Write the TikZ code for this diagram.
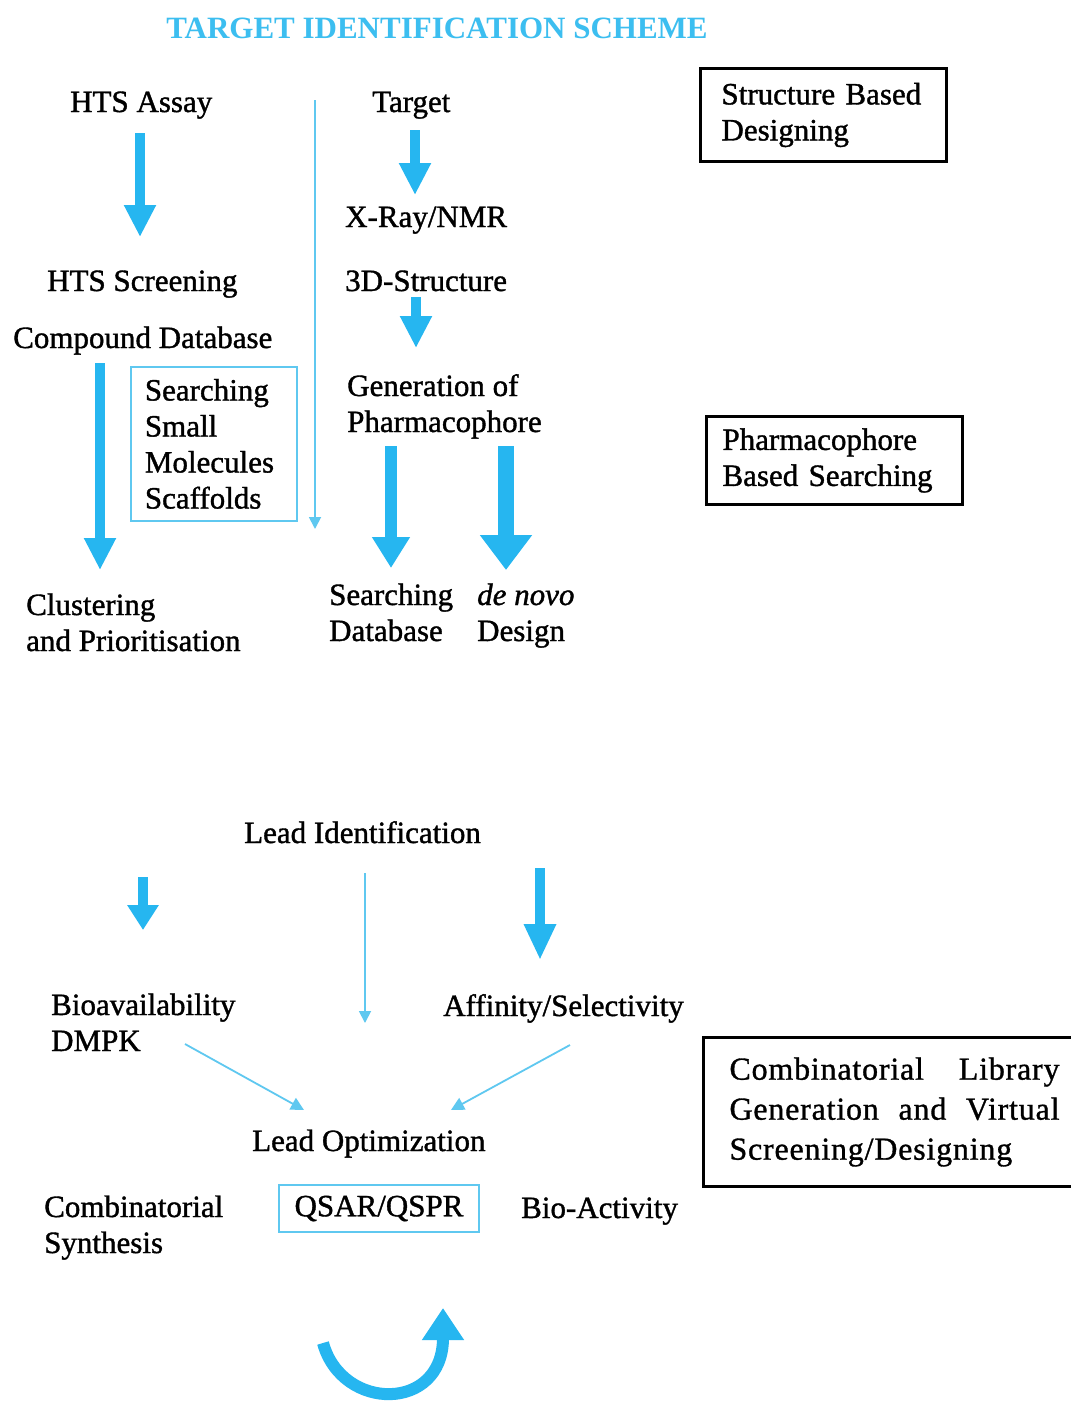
\documentclass[tikz,border=0pt]{standalone}
\usepackage{fontspec}
\setmainfont{Liberation Serif}
\newfontfamily\rfont{Liberation Serif}[FakeBold=1.2]
\newfontfamily\lfont{Liberation Serif}[FakeBold=1.0,LetterSpace=2.5]
\usetikzlibrary{arrows.meta}
\definecolor{cy}{RGB}{38,182,240}
\definecolor{cyl}{RGB}{95,200,240}
\definecolor{cyt}{RGB}{60,190,240}
\begin{document}
\begin{tikzpicture}[x=1pt,y=1pt,
  txt/.style={font=\rfont\fontsize{31}{36}\selectfont, inner sep=0pt, anchor=base west, align=left},
  fat/.style={draw=cy, line width=10pt, -{Triangle[width=30pt,length=32pt]}},
  thinarr/.style={draw=cyl, line width=1.8pt, -{Triangle[width=12pt,length=12pt]}},
  blackbox/.style={draw=black, line width=3pt, anchor=north west, align=left,
     font=\rfont\fontsize{31}{36}\selectfont, inner ysep=0pt},
  cybox/.style={draw=cyl, line width=1.8pt, anchor=north west, align=left,
     font=\rfont\fontsize{31}{36}\selectfont, inner ysep=0pt}]
\useasboundingbox (0,0) rectangle (1071,-1401);
\fill[white] (0,0) rectangle (1071,-1401);

% title
\node[font=\bfseries\fontsize{31}{36}\selectfont, text=cyt, inner sep=0pt, anchor=base] (title) at (437,-38) {TARGET IDENTIFICATION SCHEME};

% top part texts
\node[txt] (hts) at (70,-112) {HTS Assay};
\node[txt] (target) at (372,-112) {Target};
\node[txt] (xray) at (345,-227) {X-Ray/NMR};
\node[txt] (htsscr) at (47,-291) {HTS Screening};
\node[txt] (struct) at (345,-291) {3D-Structure};
\node[txt] (compound) at (13,-348) {Compound Database};
\node[txt] (gen) at (347,-432) {Generation of\\Pharmacophore};
\node[txt] (searchdb) at (329,-641) {Searching\\Database};
\node[txt] (denovo) at (477,-641) {\textit{de novo}\\Design};
\node[txt] (cluster) at (26,-651) {Clustering\\and Prioritisation};

\node[cybox, minimum width=166pt, minimum height=154pt, text width=138pt, inner xsep=14pt] (searchbox) at (130,-366) {Searching\\Small\\Molecules\\Scaffolds};

\node[blackbox, minimum width=246pt, minimum height=93pt, text width=204pt, inner xsep=21pt] (sbd) at (699,-67) {Structure Based\\Designing};
\node[blackbox, minimum width=256pt, minimum height=88pt, text width=224pt, inner xsep=16pt] (pbs) at (705,-415) {Pharmacophore\\Based Searching};

% top arrows
\coordinate (a1s) at (140,-133); \coordinate (a1e) at (140,-237);
\coordinate (a2s) at (415,-130); \coordinate (a2e) at (415,-195);
\coordinate (a3s) at (416,-297); \coordinate (a3e) at (416,-348);
\coordinate (a4s) at (100,-363); \coordinate (a4e) at (100,-570);
\coordinate (a5s) at (391,-446); \coordinate (a5e) at (391,-568);
\coordinate (a6s) at (506,-446); \coordinate (a6e) at (506,-570);
\coordinate (v1s) at (315,-100); \coordinate (v1e) at (315,-529);
\draw[fat] (a1s) -- (a1e);
\draw[fat] (a2s) -- (a2e);
\draw[fat] (a3s) -- (a3e);
\draw[fat] (a4s) -- (a4e);
\draw[fat, line width=12pt, -{Triangle[width=36pt,length=31pt]}] (a5s) -- (a5e);
\draw[fat, line width=16pt, -{Triangle[width=50pt,length=35pt]}] (a6s) -- (a6e);
\draw[thinarr] (v1s) -- (v1e);

% bottom part texts
\node[txt] (leadid) at (244,-843) {Lead Identification};
\node[txt] (bio) at (51,-1051) {Bioavailability\\DMPK};
\node[txt] (aff) at (443,-1016) {Affinity/Selectivity};
\node[txt] (leadopt) at (252,-1151) {Lead Optimization};
\node[txt] (combsyn) at (44,-1253) {Combinatorial\\Synthesis};
\node[txt] (bioact) at (521,-1218) {Bio-Activity};
\node[cybox, minimum width=200pt, minimum height=47pt, align=center, anchor=center] (qsar) at (379,-1208.5) {QSAR/QSPR};
\node[blackbox, font=\lfont\fontsize{32}{40}\selectfont, minimum width=382pt, minimum height=149pt, text width=330pt, inner xsep=26pt] (comb) at (702,-1036)
  {Combinatorial\hfill Library\\Generation\hfill and\hfill Virtual\\Screening/Designing};

% bottom arrows
\coordinate (b1s) at (143,-877); \coordinate (b1e) at (143,-930);
\coordinate (b2s) at (365,-873); \coordinate (b2e) at (365,-1023);
\coordinate (b3s) at (540,-868); \coordinate (b3e) at (540,-960);
\coordinate (b4s) at (185,-1044); \coordinate (b4e) at (304,-1110);
\coordinate (b5s) at (570,-1045); \coordinate (b5e) at (451,-1110);
\draw[fat, -{Triangle[width=30pt,length=25pt]}] (b1s) -- (b1e);
\draw[thinarr] (b2s) -- (b2e);
\draw[fat, -{Triangle[width=30pt,length=36pt]}] (b3s) -- (b3e);
\draw[thinarr, -{Triangle[width=13pt,length=13pt]}] (b4s) -- (b4e);
\draw[thinarr, -{Triangle[width=13pt,length=13pt]}] (b5s) -- (b5e);

% curved arrow
\coordinate (cs) at (323,-1343);
\coordinate (ce) at (443,-1308);
\draw[draw=cy, line width=12pt, -{Triangle[width=40pt,length=32pt]}] (cs) .. controls (342,-1412) and (443,-1412) .. (ce);
\end{tikzpicture}
\end{document}
